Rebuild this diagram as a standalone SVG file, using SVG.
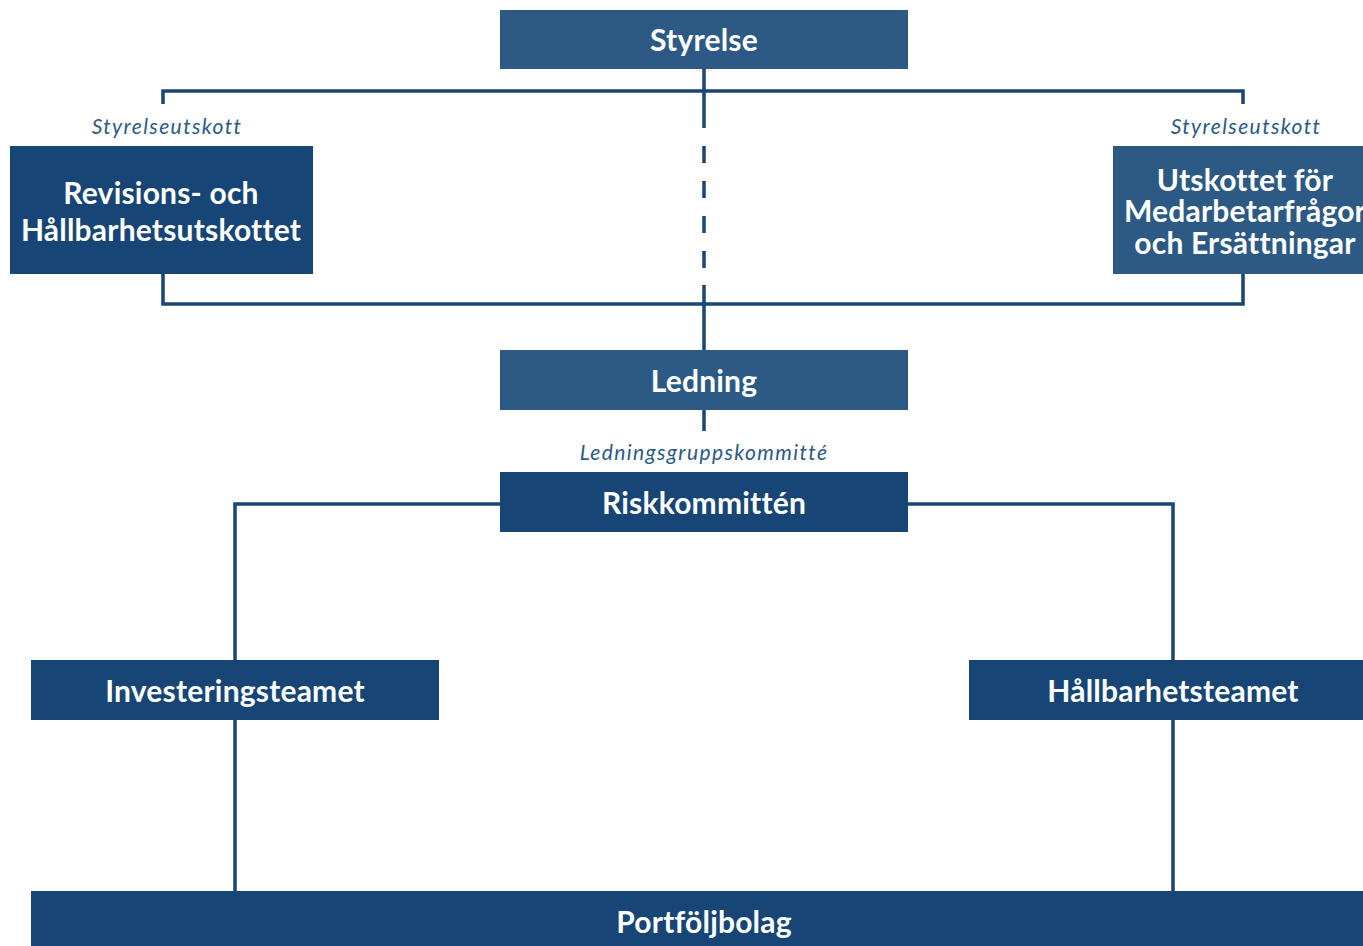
<svg xmlns="http://www.w3.org/2000/svg" width="1363" height="946" viewBox="0 0 1363 946">
<style>
.lite{fill:#2d5985}
.dark{fill:#174575}
.t{font-family:Lato,"Noto Sans",sans-serif;font-weight:700;font-size:30px;letter-spacing:0.2px;fill:#ffffff;text-anchor:middle}
.i{font-family:Lato,"Noto Sans",sans-serif;font-style:italic;font-size:21px;letter-spacing:1.4px;fill:#2d5985;text-anchor:middle}
.c{stroke:#174575;stroke-width:3.5;fill:none}
</style>
<rect width="1363" height="946" fill="#ffffff"/>
<g id="connectors">
<path class="c" d="M163 104 V91 H1243 V104"/>
<path class="c" d="M163 274 V304 H1243 V274"/>
<path class="c" d="M704 64 V128"/>
<path class="c" d="M704 146 V285" stroke-dasharray="17 18"/>
<path class="c" d="M704 285 V350"/>
<path class="c" d="M704 410 V431"/>
<path class="c" d="M500 504 H235 V660"/>
<path class="c" d="M908 504 H1173 V660"/>
<path class="c" d="M235 720 V891"/>
<path class="c" d="M1173 720 V891"/>
</g>
<g id="styrelse">
<rect class="lite" x="500" y="10" width="408" height="59"/>
<text class="t" x="704" y="51">Styrelse</text>
</g>
<g id="revision">
<text class="i" x="167" y="134">Styrelseutskott</text>
<rect class="dark" x="10" y="146" width="303" height="128"/>
<text class="t" x="161" y="204">Revisions- och</text>
<text class="t" x="161" y="241">Hållbarhetsutskottet</text>
</g>
<g id="utskottet">
<text class="i" x="1246" y="134">Styrelseutskott</text>
<rect class="lite" x="1113" y="146" width="262" height="128"/>
<text class="t" x="1245" y="191">Utskottet för</text>
<text class="t" x="1245" y="222">Medarbetarfrågor</text>
<text class="t" x="1245" y="254">och Ersättningar</text>
</g>
<g id="ledning">
<rect class="lite" x="500" y="350" width="408" height="60"/>
<text class="t" x="704" y="392">Ledning</text>
</g>
<g id="riskkommitten">
<text class="i" x="704" y="460">Ledningsgruppskommitté</text>
<rect class="dark" x="500" y="472" width="408" height="60"/>
<text class="t" x="704" y="514">Riskkommittén</text>
</g>
<g id="investeringsteamet">
<rect class="dark" x="31" y="660" width="408" height="60"/>
<text class="t" x="235" y="702">Investeringsteamet</text>
</g>
<g id="hallbarhetsteamet">
<rect class="dark" x="969" y="660" width="408" height="60"/>
<text class="t" x="1173" y="702">Hållbarhetsteamet</text>
</g>
<g id="portfoljbolag">
<rect class="dark" x="31" y="891" width="1346" height="60"/>
<text class="t" x="704" y="933">Portföljbolag</text>
</g>
</svg>
